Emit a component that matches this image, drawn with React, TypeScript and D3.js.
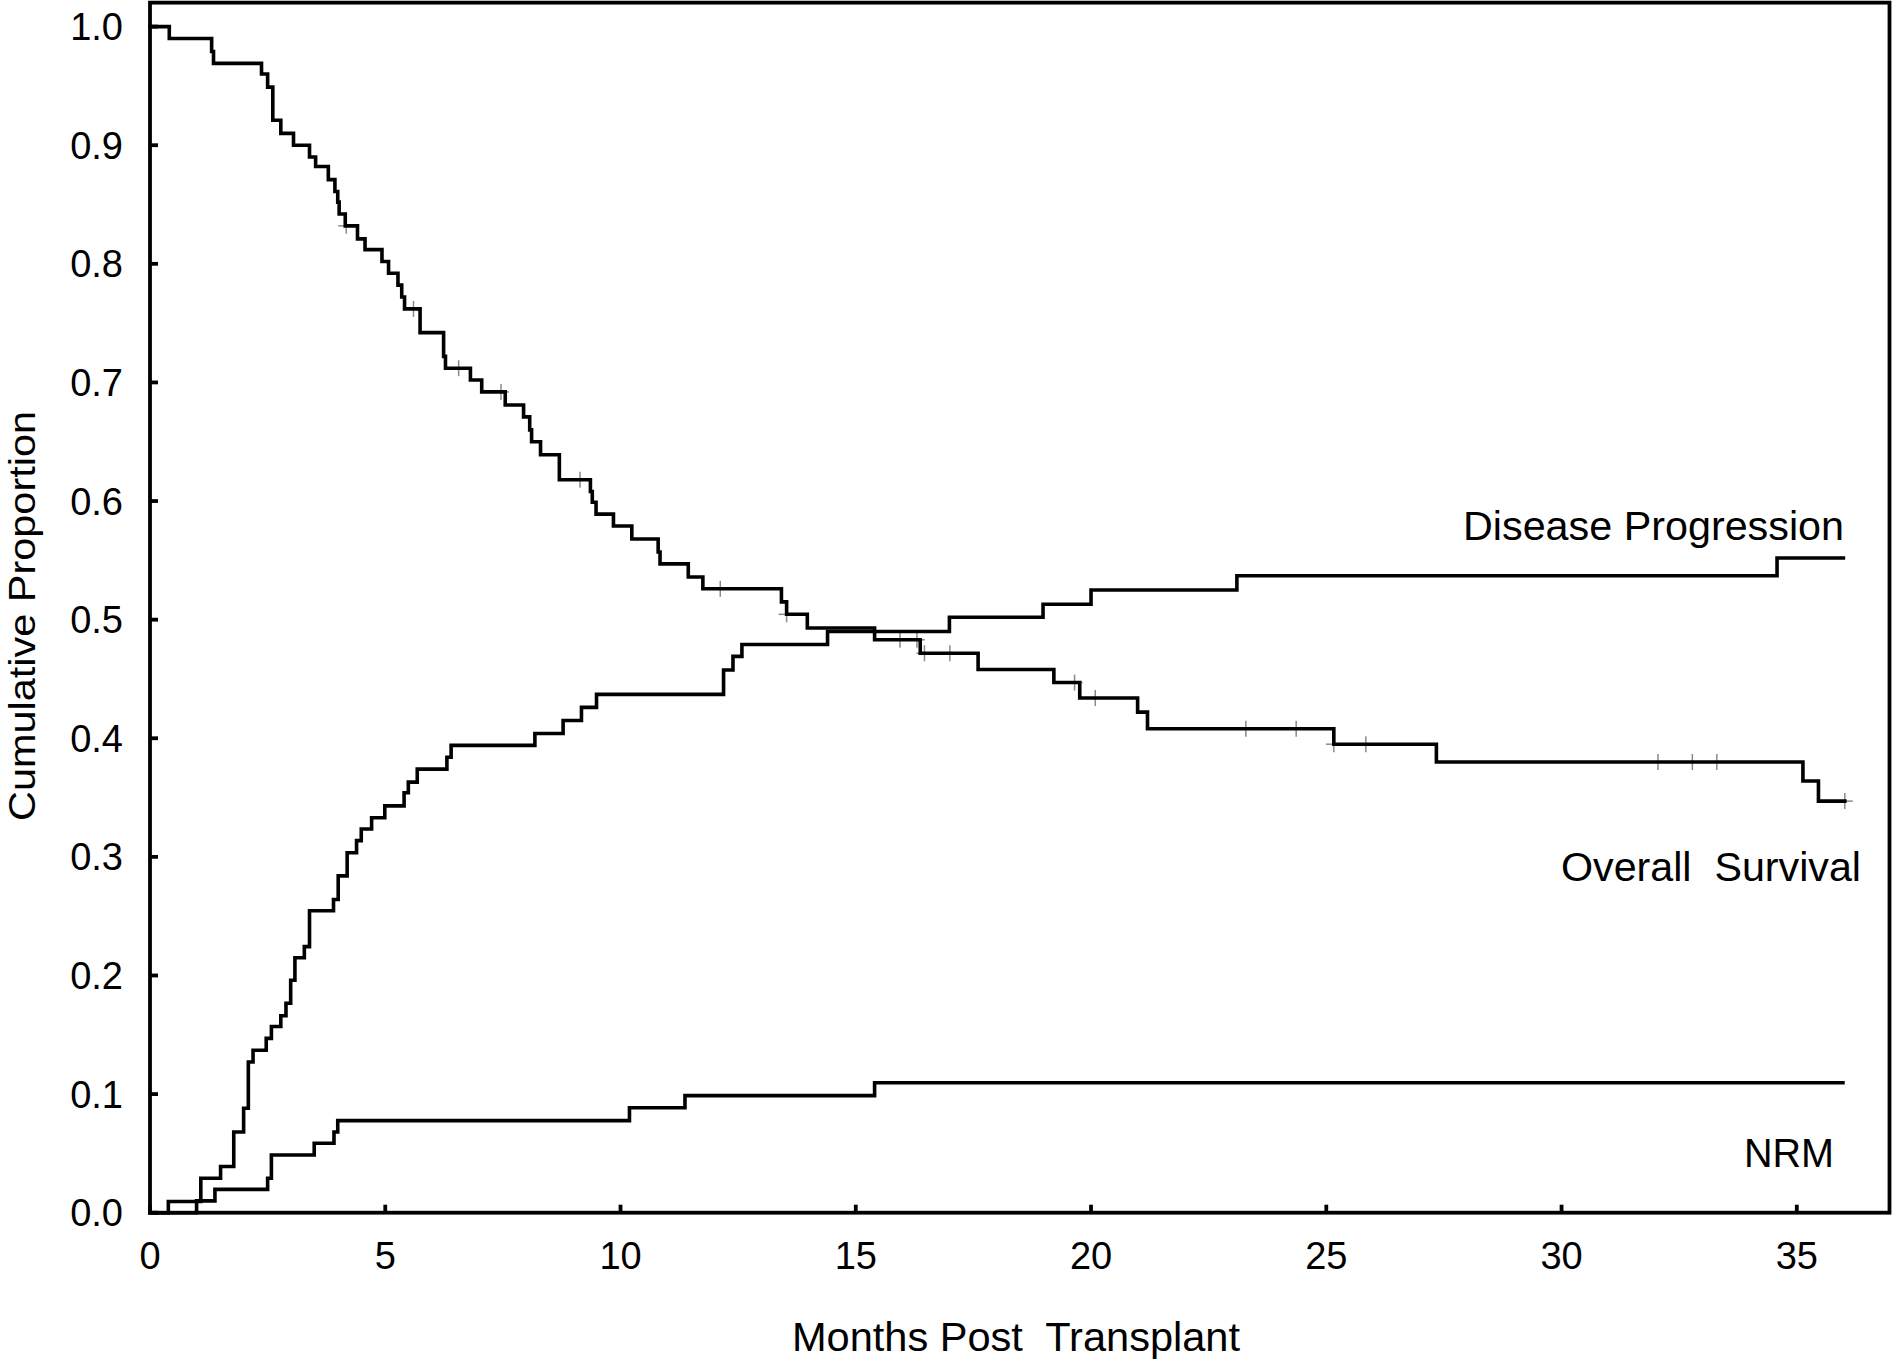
import React from "react";
import * as d3 from "d3";

// ---------- Data ----------
// Overall Survival (Kaplan-Meier), step after each time
const osTimes = [0, 0.41, 1.31, 1.35, 2.37, 2.5, 2.61, 2.78, 3.05, 3.39, 3.52, 3.79, 3.93, 3.99, 4.02, 4.15, 4.41, 4.57, 4.93, 5.07, 5.27, 5.35, 5.41, 5.74, 6.24, 6.28, 6.81, 7.05, 7.55, 7.94, 8.07, 8.11, 8.3, 8.7, 9.36, 9.4, 9.48, 9.85, 10.24, 10.8, 10.84, 11.44, 11.75, 13.42, 13.53, 13.97, 15.4, 16.37, 17.6, 19.21, 19.76, 20.99, 21.2, 25.16, 27.34, 35.13, 35.46];
const osValues = [1.0, 0.99, 0.979, 0.969, 0.96, 0.949, 0.921, 0.91, 0.9, 0.89, 0.882, 0.871, 0.861, 0.852, 0.842, 0.832, 0.821, 0.812, 0.802, 0.792, 0.782, 0.772, 0.762, 0.742, 0.722, 0.712, 0.702, 0.692, 0.681, 0.671, 0.66, 0.65, 0.639, 0.618, 0.608, 0.599, 0.589, 0.579, 0.568, 0.557, 0.547, 0.536, 0.526, 0.515, 0.5045, 0.493, 0.483, 0.4717, 0.458, 0.447, 0.434, 0.422, 0.408, 0.395, 0.38, 0.364, 0.347];
const osEnd = 36.02;
const osCensorTimes = [4.17, 5.6, 6.56, 7.46, 9.14, 12.12, 13.53, 15.94, 16.3, 16.46, 17.0, 19.65, 20.09, 23.29, 24.36, 25.16, 25.84, 32.05, 32.78, 33.3, 36.02];

// Disease Progression (cumulative incidence)
const dpTimes = [0, 0.39, 1.08, 1.5, 1.78, 1.99, 2.09, 2.19, 2.47, 2.58, 2.78, 2.89, 2.99, 3.08, 3.28, 3.39, 3.9, 4.0, 4.19, 4.39, 4.49, 4.71, 4.99, 5.4, 5.49, 5.68, 6.31, 6.4, 8.18, 8.78, 9.17, 9.49, 12.19, 12.39, 12.58, 14.4, 16.99, 18.98, 20.0, 23.1, 34.58];
const dpValues = [0, 0.0095, 0.029, 0.039, 0.068, 0.088, 0.127, 0.137, 0.147, 0.157, 0.166, 0.1766, 0.196, 0.215, 0.2243, 0.2546, 0.264, 0.284, 0.3035, 0.3137, 0.3235, 0.333, 0.343, 0.354, 0.363, 0.374, 0.384, 0.394, 0.404, 0.415, 0.426, 0.437, 0.4575, 0.469, 0.479, 0.49, 0.502, 0.513, 0.525, 0.537, 0.552];
const dpEnd = 35.99;

// Non-relapse mortality (cumulative incidence)
const nrmTimes = [0, 0.99, 1.38, 2.5, 2.58, 3.49, 3.91, 3.99, 10.19, 11.37, 15.4];
const nrmValues = [0, 0.01, 0.0197, 0.029, 0.0487, 0.0585, 0.068, 0.0776, 0.0885, 0.0987, 0.1096];
const nrmEnd = 35.98;

const xTicks = [0, 5, 10, 15, 20, 25, 30, 35];
const yTicks = [0, 0.1, 0.2, 0.3, 0.4, 0.5, 0.6, 0.7, 0.8, 0.9, 1.0];

const xTitle = "Months Post  Transplant";
const yTitle = "Cumulative Proportion";
const labelDP = "Disease Progression";
const labelOS = "Overall  Survival";
const labelNRM = "NRM";

// ---------- Layout ----------
const W = 1894;
const H = 1360;
const FONT = "'Liberation Sans', Arial, Helvetica, sans-serif";

export default function App() {
  const x = d3.scaleLinear().domain([0, 36.97]).range([150, 1889.5]);
  const y = d3.scaleLinear().domain([0, 1]).range([1212.7, 26.6]);
  const yTop = 1.0202;

  const stepLine = d3
    .line<[number, number]>()
    .x((d) => x(d[0]))
    .y((d) => y(d[1]))
    .curve(d3.curveStepAfter);

  const series = (times: number[], values: number[], end: number): [number, number][] => {
    const pts: [number, number][] = times.map((t, i) => [t, values[i]]);
    pts.push([end, values[values.length - 1]]);
    return pts;
  };

  const osAt = (t: number) => {
    const i = d3.bisectRight(osTimes, t) - 1;
    return osValues[Math.max(0, i)];
  };

  const x0 = x(0);
  const x1 = x(36.97);
  const y0 = y(0);
  const y1 = y(yTop);
  const tickLen = 8;
  const axisW = 3.8;
  const lineW = 3.6;
  const cs = 8;

  return (
    <div style={{ position: "absolute", left: 0, top: 0 }}>
      <svg width={W} height={H} viewBox={`0 0 ${W} ${H}`} style={{ display: "block", background: "#fff" }}>
        <rect x={0} y={0} width={W} height={H} fill="#fff" />
        {/* censor marks */}
        <g stroke="#8a8a8a" strokeWidth={1.5}>
          {osCensorTimes.map((t, i) => {
            const cx = x(t);
            const cy = y(osAt(t));
            return (
              <g key={i}>
                <line x1={cx} x2={cx} y1={cy - cs} y2={cy + cs} />
                <line x1={cx - cs} x2={cx + cs} y1={cy} y2={cy} />
              </g>
            );
          })}
        </g>
        {/* curves */}
        <g fill="none" stroke="#000" strokeWidth={lineW} strokeLinejoin="miter" strokeLinecap="square">
          <path d={stepLine(series(osTimes, osValues, osEnd)) || ""} />
          <path d={stepLine(series(dpTimes, dpValues, dpEnd)) || ""} />
          <path d={stepLine(series(nrmTimes, nrmValues, nrmEnd)) || ""} />
        </g>
        {/* frame */}
        <g stroke="#000" strokeWidth={axisW} fill="none">
          <rect x={x0} y={y1} width={x1 - x0} height={y0 - y1} />
          {xTicks.map((t) => (
            <line key={"xt" + t} x1={x(t)} x2={x(t)} y1={y0} y2={y0 - tickLen} />
          ))}
          {yTicks.map((t) => (
            <line key={"yt" + t} x1={x0} x2={x0 + tickLen} y1={y(t)} y2={y(t)} />
          ))}
        </g>
        {/* tick labels */}
        <g fontFamily={FONT} fontSize={38} fill="#000">
          {xTicks.map((t) => (
            <text key={"xl" + t} x={x(t)} y={1269} textAnchor="middle">
              {t}
            </text>
          ))}
          {yTicks.map((t) => (
            <text key={"yl" + t} x={123} y={y(t) + 13.5} textAnchor="end">
              {t.toFixed(1)}
            </text>
          ))}
        </g>
        {/* titles */}
        <g fontFamily={FONT} fontSize={40} fill="#000">
          <text x={792} y={1351} textLength={448} lengthAdjust="spacingAndGlyphs" style={{ whiteSpace: "pre" }}>
            {xTitle}
          </text>
          <text
            transform={`translate(35, 616) rotate(-90)`}
            textAnchor="middle"
            fontSize={37}
            textLength={410}
            lengthAdjust="spacingAndGlyphs"
          >
            {yTitle}
          </text>
          <text x={1463} y={540} textLength={381} lengthAdjust="spacingAndGlyphs">
            {labelDP}
          </text>
          <text x={1561} y={881} textLength={300} lengthAdjust="spacingAndGlyphs" style={{ whiteSpace: "pre" }}>
            {labelOS}
          </text>
          <text x={1744} y={1167} textLength={90} lengthAdjust="spacingAndGlyphs">
            {labelNRM}
          </text>
        </g>
      </svg>
    </div>
  );
}
